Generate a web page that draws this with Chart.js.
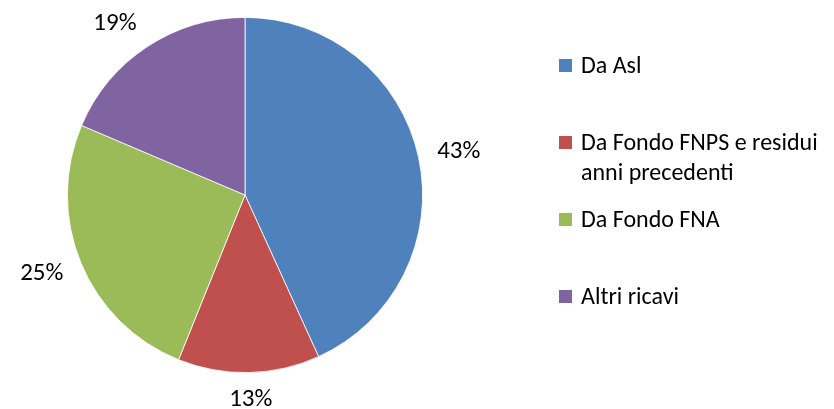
<!DOCTYPE html>
<html>
<head>
<meta charset="utf-8">
<script src="https://cdn.jsdelivr.net/npm/chart.js@4.4.1/dist/chart.umd.min.js"></script>
<style>
  html, body { margin: 0; padding: 0; background: #fff; }
  #wrap { position: relative; width: 834px; height: 409px; overflow: hidden; }
  #c { position: absolute; left: 0; top: 0; }
  #legend { position: absolute; left: 559px; top: 50px; width: 275px;
            font-family: Carlito, Lato, sans-serif; font-size: 24px; color: #000; }
  .item { display: flex; align-items: flex-start; height: 77px; }
  .sw { width: 13px; height: 13px; margin-top: 8.5px; margin-right: 9px; flex: none; }
  .txt { line-height: 30px; width: 253px; }
</style>
</head>
<body>
<div id="wrap">
  <canvas id="c" width="834" height="409"></canvas>
  <div id="legend"></div>
</div>
<script>
const categories = ["Da Asl", "Da Fondo FNPS e residui anni precedenti", "Da Fondo FNA", "Altri ricavi"];
const values = [43.2, 12.9, 25.3, 18.6];
const colors = ["#4F81BD", "#C0504D", "#9BBB59", "#8064A2"];

// legend (HTML)
const legendEl = document.getElementById('legend');
categories.forEach((name, i) => {
  const it = document.createElement('div');
  it.className = 'item';
  const sw = document.createElement('div');
  sw.className = 'sw';
  sw.style.background = colors[i];
  const t = document.createElement('div');
  t.className = 'txt';
  t.textContent = name;
  it.appendChild(sw); it.appendChild(t);
  legendEl.appendChild(it);
});

const outsideLabels = {
  id: 'outsideLabels',
  afterDatasetsDraw(chart) {
    const ctx = chart.ctx;
    const meta = chart.getDatasetMeta(0);
    const data = chart.data.datasets[0].data;
    const total = data.reduce((a, b) => a + b, 0);
    ctx.save();
    ctx.font = '25px Carlito, Lato, sans-serif';
    ctx.fillStyle = '#000';
    ctx.textAlign = 'center';
    ctx.textBaseline = 'middle';
    meta.data.forEach((arc, i) => {
      const p = arc.getProps(['x', 'y', 'startAngle', 'endAngle', 'outerRadius'], true);
      const mid = (p.startAngle + p.endAngle) / 2;
      const ux = Math.cos(mid), uy = Math.sin(mid);
      const txt = Math.round(data[i] / total * 100) + '%';
      const w = ctx.measureText(txt).width;
      const h = 17;
      const R = p.outerRadius + 19;
      const cx = p.x + R * ux + Math.sign(ux) * (w / 2) * Math.min(1, 3 * Math.abs(ux));
      const cy = p.y + R * uy + uy * h / 2;
      ctx.fillText(txt, cx, cy);
    });
    ctx.restore();
  }
};

new Chart(document.getElementById('c'), {
  type: 'pie',
  data: {
    labels: categories,
    datasets: [{
      data: values,
      backgroundColor: colors,
      borderColor: '#ffffff',
      borderWidth: 0.8
    }]
  },
  options: {
    responsive: false,
    animation: false,
    layout: { padding: { left: 67, right: 411, top: 17, bottom: 36 } },
    plugins: { legend: { display: false }, tooltip: { enabled: false } }
  },
  plugins: [outsideLabels]
});
</script>
</body>
</html>
